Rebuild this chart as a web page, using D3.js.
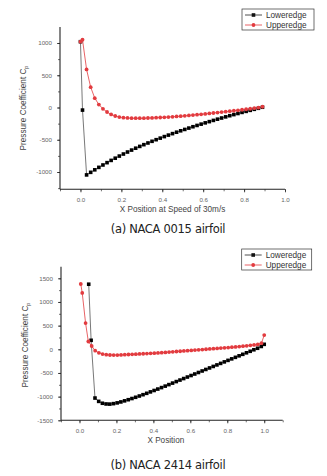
<!DOCTYPE html>
<html><head><meta charset="utf-8">
<script src="https://cdn.jsdelivr.net/npm/d3@7"></script>
<style>body{margin:0;background:#fff}svg{display:block}</style>
</head><body>
<script>
// ---------- DATA ----------
const seriesNames = ["Loweredge", "Upperedge"];

// (a) NACA 0015
const lowerAX = [0, 0.01, 0.03, 0.05, 0.07, 0.09, 0.11, 0.13, 0.15, 0.17, 0.19, 0.21, 0.23, 0.25, 0.27, 0.29, 0.31, 0.33, 0.35, 0.37, 0.39, 0.41, 0.43, 0.45, 0.47, 0.49, 0.51, 0.53, 0.55, 0.57, 0.59, 0.61, 0.63, 0.65, 0.67, 0.69, 0.71, 0.73, 0.75, 0.77, 0.79, 0.81, 0.83, 0.85, 0.87, 0.89];
const lowerAY = [1020, -40, -1045, -1005, -966, -928, -891, -855, -820, -786, -753, -721, -690, -660, -631, -603, -576, -550, -524, -499, -475, -451, -428, -405, -383, -361, -340, -319, -298, -278, -258, -238, -219, -200, -181, -163, -145, -127, -110, -93, -76, -60, -44, -28, -12, 4];
const upperAX = [0, 0.01, 0.03, 0.05, 0.07, 0.09, 0.11, 0.13, 0.15, 0.17, 0.19, 0.21, 0.23, 0.25, 0.27, 0.29, 0.31, 0.33, 0.35, 0.37, 0.39, 0.41, 0.43, 0.45, 0.47, 0.49, 0.51, 0.53, 0.55, 0.57, 0.59, 0.61, 0.63, 0.65, 0.67, 0.69, 0.71, 0.73, 0.75, 0.77, 0.79, 0.81, 0.83, 0.85, 0.87, 0.89];
const upperAY = [1020, 1050, 590, 315, 145, 45, -20, -70, -108, -132, -148, -157, -162, -165, -166, -166, -165, -163, -161, -158, -155, -152, -148, -144, -139, -134, -129, -123, -117, -111, -105, -99, -92, -85, -78, -71, -64, -57, -50, -43, -35, -27, -19, -11, -2, 12];
const xTicksA = [0.0, 0.2, 0.4, 0.6, 0.8, 1.0];
const yTicksA = [-1000, -500, 0, 500, 1000];

// (b) NACA 2414
const lowerBX = [0.05, 0.063, 0.084, 0.104, 0.124, 0.144, 0.164, 0.184, 0.204, 0.224, 0.244, 0.264, 0.284, 0.304, 0.324, 0.344, 0.364, 0.384, 0.404, 0.424, 0.444, 0.464, 0.484, 0.504, 0.524, 0.544, 0.564, 0.584, 0.604, 0.624, 0.644, 0.664, 0.684, 0.704, 0.724, 0.744, 0.764, 0.784, 0.804, 0.824, 0.844, 0.864, 0.884, 0.904, 0.924, 0.944, 0.964, 0.984, 1.0];
const lowerBY = [1375, 190, -1030, -1100, -1140, -1155, -1158, -1148, -1132, -1112, -1089, -1065, -1040, -1014, -987, -959, -930, -900, -870, -840, -809, -778, -746, -714, -682, -650, -618, -586, -554, -522, -490, -458, -426, -394, -362, -330, -298, -266, -234, -202, -170, -138, -106, -74, -42, -10, 22, 60, 105];
const upperBX = [0.007, 0.015, 0.033, 0.048, 0.066, 0.085, 0.105, 0.125, 0.145, 0.165, 0.185, 0.205, 0.225, 0.245, 0.265, 0.285, 0.305, 0.325, 0.345, 0.365, 0.385, 0.405, 0.425, 0.445, 0.465, 0.485, 0.505, 0.525, 0.545, 0.565, 0.585, 0.605, 0.625, 0.645, 0.665, 0.685, 0.705, 0.725, 0.745, 0.765, 0.785, 0.805, 0.825, 0.845, 0.865, 0.885, 0.905, 0.925, 0.945, 0.965, 0.985, 1.0];
const upperBY = [1380, 1190, 555, 165, 70, -30, -75, -100, -113, -120, -122, -121, -118, -114, -110, -106, -102, -98, -94, -90, -86, -81, -76, -71, -65, -59, -53, -47, -41, -35, -29, -23, -17, -11, -5, 1, 7, 13, 19, 25, 31, 37, 44, 51, 58, 66, 74, 83, 92, 104, 130, 300];
const xTicksB = [0.0, 0.2, 0.4, 0.6, 0.8, 1.0];
const yTicksB = [-1500, -1000, -500, 0, 500, 1000, 1500];

const xLabelA = "X Position at Speed of 30m/s";
const xLabelB = "X Position";
const captionA = "(a) NACA 0015 airfoil";
const captionB = "(b) NACA 2414 airfoil";

// ---------- DRAW ----------
const W = 327, H = 476;
const svg = d3.select("body").append("svg").attr("width", W).attr("height", H)
  .attr("font-family", "'Liberation Sans', Arial, sans-serif");
svg.append("rect").attr("width", W).attr("height", H).attr("fill", "#fff");

const LOWER_LINE = "#555", RED = "#e23b3f";

function drawChart(c) {
  const x = d3.scaleLinear().domain(c.xDomain).range([c.left, c.right]);
  const y = d3.scaleLinear().domain(c.yDomain).range([c.bottom, c.top]);
  const g = svg.append("g");

  // x axis
  const xMinor = d3.range(Math.ceil(c.xDomain[0] * 10), Math.floor(c.xDomain[1] * 10) + 1).map(d => d / 10);
  g.append("g").attr("transform", `translate(0,${c.bottom})`)
    .call(d3.axisBottom(x).tickValues(xMinor).tickSize(2).tickFormat(""))
    .call(s => s.select(".domain").remove())
    .selectAll("line").attr("stroke", "#333").attr("stroke-width", 0.7);
  const xa = g.append("g").attr("transform", `translate(0,${c.bottom})`)
    .call(d3.axisBottom(x).tickValues(c.xTicks).tickSize(3).tickPadding(5).tickFormat(d3.format(".1f")));
  xa.select(".domain").attr("d", `M${c.left},0H${c.right}`).attr("stroke", "#222").attr("stroke-width", 1.1);
  xa.selectAll("line").attr("stroke", "#222").attr("stroke-width", 0.8);
  xa.selectAll("text").attr("font-size", 6.2).attr("fill", "#666");

  // y axis
  const yMinor = d3.range(Math.ceil(c.yDomain[0] / 250), Math.floor(c.yDomain[1] / 250) + 1).map(d => d * 250);
  g.append("g").attr("transform", `translate(${c.left},0)`)
    .call(d3.axisLeft(y).tickValues(yMinor).tickSize(2).tickFormat(""))
    .call(s => s.select(".domain").remove())
    .selectAll("line").attr("stroke", "#333").attr("stroke-width", 0.7);
  const ya = g.append("g").attr("transform", `translate(${c.left},0)`)
    .call(d3.axisLeft(y).tickValues(c.yTicks).tickSize(3).tickPadding(5).tickFormat(d => String(d)));
  ya.select(".domain").attr("d", `M0,${c.bottom}V${c.top}`).attr("stroke", "#222").attr("stroke-width", 1.1);
  ya.selectAll("line").attr("stroke", "#222").attr("stroke-width", 0.8);
  ya.selectAll("text").attr("font-size", 6.2).attr("fill", "#666");

  // axis labels
  g.append("text").attr("x", (c.left + c.right) / 2 + c.xLabelDx).attr("y", c.xLabelY)
    .attr("text-anchor", "middle").attr("font-size", 8.2).attr("fill", "#444").text(c.xLabel);
  const yl = g.append("text").attr("transform", `translate(${c.yLabelX},${c.yLabelY}) rotate(-90)`)
    .attr("text-anchor", "middle").attr("font-size", 8.2).attr("fill", "#444");
  yl.append("tspan").text("Pressure Coefficient C");
  yl.append("tspan").attr("font-size", 5.5).attr("dy", 2).text("p");

  // caption
  g.append("text").attr("x", c.capX).attr("y", c.capY).attr("text-anchor", "middle")
    .attr("font-family", "'DejaVu Sans', sans-serif").attr("font-size", 11.5).attr("fill", "#222")
    .attr("letter-spacing", -0.3).text(c.caption);

  // series
  const line = d3.line().x(d => x(d[0])).y(d => y(d[1]));
  const lower = c.lowerX.map((v, i) => [v, c.lowerY[i]]);
  const upper = c.upperX.map((v, i) => [v, c.upperY[i]]);
  g.append("path").datum(lower).attr("d", line).attr("fill", "none").attr("stroke", LOWER_LINE).attr("stroke-width", 0.8);
  g.append("path").datum(upper).attr("d", line).attr("fill", "none").attr("stroke", RED).attr("stroke-width", 0.8);
  g.selectAll(".sq").data(lower).join("rect")
    .attr("x", d => x(d[0]) - 1.8).attr("y", d => y(d[1]) - 1.8).attr("width", 3.6).attr("height", 3.6).attr("fill", "#000");
  g.selectAll(".ci").data(upper).join("circle")
    .attr("cx", d => x(d[0])).attr("cy", d => y(d[1])).attr("r", 1.9).attr("fill", RED);

  // legend
  const L = c.legend;
  g.append("rect").attr("x", L.x).attr("y", L.y).attr("width", L.w).attr("height", L.h)
    .attr("fill", "#fff").attr("stroke", "#333").attr("stroke-width", 0.7);
  seriesNames.forEach((name, i) => {
    const ry = L.y + 6 + i * 10;
    const col = i === 0 ? "#111" : RED;
    g.append("line").attr("x1", L.x + 3).attr("x2", L.x + 20).attr("y1", ry).attr("y2", ry)
      .attr("stroke", i === 0 ? "#222" : RED).attr("stroke-width", 0.8);
    if (i === 0) g.append("rect").attr("x", L.x + 9.7).attr("y", ry - 1.8).attr("width", 3.6).attr("height", 3.6).attr("fill", col);
    else g.append("circle").attr("cx", L.x + 11.5).attr("cy", ry).attr("r", 1.9).attr("fill", col);
    g.append("text").attr("x", L.x + 24).attr("y", ry + 3).attr("font-size", 8.2).attr("fill", "#333").text(name);
  });
}

drawChart({
  xDomain: [-0.1, 1.0], yDomain: [-1268, 1248],
  left: 60, right: 285, top: 27, bottom: 189.3,
  xTicks: xTicksA, yTicks: yTicksA,
  lowerX: lowerAX, lowerY: lowerAY, upperX: upperAX, upperY: upperAY,
  xLabel: xLabelA, xLabelY: 212, xLabelDx: 0,
  yLabelX: 26, yLabelY: 108,
  caption: captionA, capX: 168, capY: 233,
  legend: { x: 242, y: 9, w: 72, h: 21 }
});

drawChart({
  xDomain: [-0.1, 1.1], yDomain: [-1500, 1745],
  left: 61, right: 282.7, top: 266.7, bottom: 420.3,
  xTicks: xTicksB, yTicks: yTicksB,
  lowerX: lowerBX, lowerY: lowerBY, upperX: upperBX, upperY: upperBY,
  xLabel: xLabelB, xLabelY: 443, xLabelDx: -6,
  yLabelX: 28, yLabelY: 345,
  caption: captionB, capX: 168, capY: 469,
  legend: { x: 241.7, y: 249, w: 70, h: 21 }
});
</script>
</body></html>
